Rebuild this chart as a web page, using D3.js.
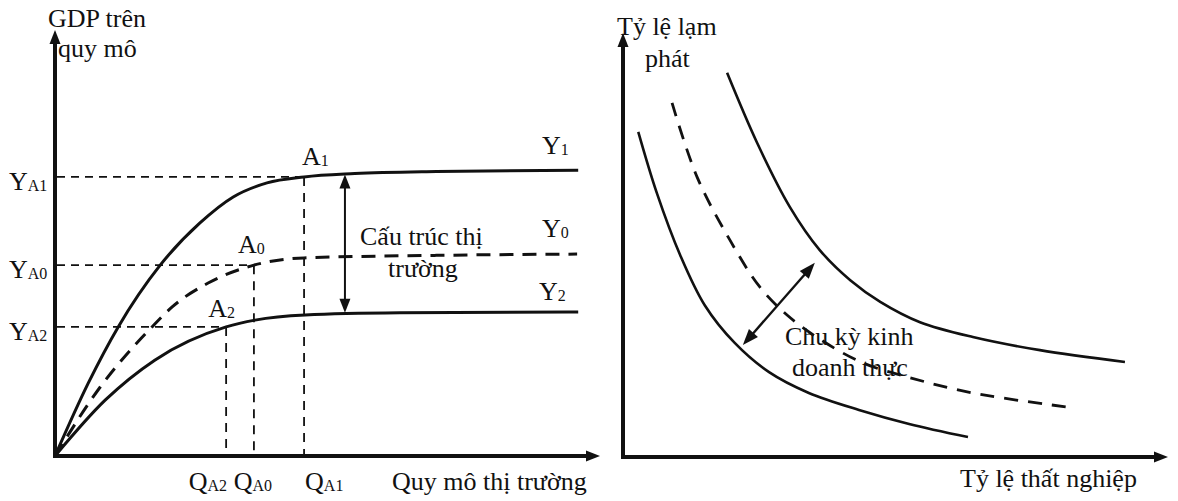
<!DOCTYPE html>
<html><head><meta charset="utf-8">
<script src="https://cdn.jsdelivr.net/npm/d3@7"></script>
<style>
body{margin:0;background:#fff}
text{font-family:"Liberation Serif","Times New Roman",serif;fill:#111;font-size:26px}
</style>
</head><body>
<svg id="c" width="1178" height="501"></svg>
<script>
// ---------- DATA (left panel: GDP vs market scale) ----------
const leftAxisTitles = ["GDP trên", "quy mô", "Quy mô thị trường"];
const pointNames = ["A2", "A0", "A1"];
const qValues = [31.4, 36.5, 45.7];          // Q_A2, Q_A0, Q_A1
const yValues = [30.3, 44.8, 65.5];          // Y_A2, Y_A0, Y_A1
const curveY1 = [[0,0],[6.1,17.1],[11.6,30.3],[19.3,44.8],[26.6,54.7],[32.7,60.8],[38.9,64.1],[45.7,65.5],[55,66.3],[70,66.8],[96,67.1]];
const curveY0 = [[0,0],[8.3,16.2],[17.8,30.3],[21.5,35.0],[28.1,40.6],[36.5,44.8],[45.7,46.5],[70,47.1],[95.8,47.4]];
const curveY2 = [[0,0],[9.2,13.1],[18.3,22.5],[31.4,30.3],[36.7,31.9],[45.9,33.1],[63.3,33.6],[96,33.8]];
const curveNames = ["Y1", "Y0", "Y2"];
const structureLabel = ["Cấu trúc thị", "trường"];
const structureArrow = {x: 53.2, y1: 66.1, y2: 33.6};

// ---------- DATA (right panel: inflation vs unemployment) ----------
const rightAxisTitles = ["Tỷ lệ lạm", "phát", "Tỷ lệ thất nghiệp"];
const phillipsOuter = [[19.1,90.6],[24.6,74.1],[30.6,59.0],[36.1,48.8],[41.7,41.7],[47.2,36.6],[54.5,31.8],[64.2,28.3],[76.5,25.2],[92.1,22.4]];
const phillipsMid   = [[9.0,83.5],[13.6,66.0],[19.6,51.2],[25.1,40.1],[30.1,33.5],[36.1,27.8],[44.0,22.2],[52.1,18.9],[64.2,15.1],[82.6,11.6]];
const phillipsInner = [[2.8,76.7],[6.2,62.3],[10.5,47.6],[15.0,35.8],[20.5,26.9],[26.8,20.0],[34.1,15.1],[43.3,11.1],[52.5,7.8],[63.3,4.7]];
const cycleLabel = ["Chu kỳ kinh", "doanh thực"];
const cycleArrow = [[35.2,45.8],[22.0,26.4]];

// ---------- SCALES ----------
const svg = d3.select("#c");
const xL = d3.scaleLinear().domain([0,100]).range([55,600]);
const yL = d3.scaleLinear().domain([0,100]).range([456,30]);
const xR = d3.scaleLinear().domain([0,100]).range([623,1168]);
const yR = d3.scaleLinear().domain([0,100]).range([457,33]);

function head(g, tip, from, len, wid){
  const dx = tip[0]-from[0], dy = tip[1]-from[1];
  const d = Math.hypot(dx,dy), ux = dx/d, uy = dy/d;
  const bx = tip[0]-ux*len, by = tip[1]-uy*len;
  const px = -uy*wid/2, py = ux*wid/2;
  g.append("path").attr("d", `M${tip[0]},${tip[1]}L${bx+px},${by+py}L${bx-px},${by-py}Z`).attr("fill","#111");
}
function arrowLine(g, a, b, w, len, wid, both){
  const dx=b[0]-a[0], dy=b[1]-a[1], d=Math.hypot(dx,dy), ux=dx/d, uy=dy/d;
  const a2 = both ? [a[0]+ux*len*0.8, a[1]+uy*len*0.8] : a;
  const b2 = [b[0]-ux*len*0.8, b[1]-uy*len*0.8];
  g.append("line").attr("x1",a2[0]).attr("y1",a2[1]).attr("x2",b2[0]).attr("y2",b2[1])
    .attr("stroke","#111").attr("stroke-width",w);
  head(g, b, a, len, wid);
  if (both) head(g, a, b, len, wid);
}
function sub(g, x, y, main, s, anchor){
  const t = g.append("text").attr("x",x).attr("y",y).attr("text-anchor",anchor||"start");
  t.append("tspan").text(main);
  t.append("tspan").attr("font-size",16).attr("dy",1).text(s);
  return t;
}

// ---------- LEFT PANEL ----------
const L = svg.append("g");
yValues.forEach((v,i)=>{
  L.append("line").attr("x1",xL(0)+2).attr("x2",xL(qValues[i])).attr("y1",yL(v)).attr("y2",yL(v))
   .attr("stroke","#111").attr("stroke-width",1.8).attr("stroke-dasharray","8,6");
  L.append("line").attr("x1",xL(qValues[i])).attr("x2",xL(qValues[i])).attr("y1",yL(v)).attr("y2",yL(0))
   .attr("stroke","#111").attr("stroke-width",1.8).attr("stroke-dasharray","9,7");
});
const lineL = d3.line().x(d=>xL(d[0])).y(d=>yL(d[1])).curve(d3.curveMonotoneX);
L.append("path").attr("d",lineL(curveY1)).attr("fill","none").attr("stroke","#111").attr("stroke-width",3);
L.append("path").attr("d",lineL(curveY2)).attr("fill","none").attr("stroke","#111").attr("stroke-width",3);
L.append("path").attr("d",lineL(curveY0)).attr("fill","none").attr("stroke","#111").attr("stroke-width",3)
  .attr("stroke-dasharray","14,9");
arrowLine(L,[xL(0),yL(0)+2],[xL(0),yL(100)],4,14,11,false);
arrowLine(L,[xL(0)-2,yL(0)],[xL(100),yL(0)],4,14,11,false);
arrowLine(L,[xL(structureArrow.x),yL(structureArrow.y2)],[xL(structureArrow.x),yL(structureArrow.y1)],2,14,11,true);
L.append("text").attr("x",48).attr("y",27).text(leftAxisTitles[0]);
L.append("text").attr("x",58).attr("y",57).text(leftAxisTitles[1]);
L.append("text").attr("x",392).attr("y",490).text(leftAxisTitles[2]);
yValues.forEach((v,i)=>{ sub(L, 9, yL(v)+13, "Y", pointNames[i]); });
sub(L, xL(qValues[0])+1, 490, "Q", pointNames[0], "end");
sub(L, xL(qValues[1])-1, 490, "Q", pointNames[1], "middle");
sub(L, xL(qValues[2])+1, 490, "Q", pointNames[2], "start");
sub(L, xL(qValues[0])-18, yL(yValues[0])-10, "A", pointNames[0].slice(1));
sub(L, xL(qValues[1])-16, yL(yValues[1])-12, "A", pointNames[1].slice(1));
sub(L, xL(qValues[2])-2, yL(yValues[2])-12, "A", pointNames[2].slice(1));
sub(L, 542, 154, "Y", curveNames[0].slice(1));
sub(L, 542, 237, "Y", curveNames[1].slice(1));
sub(L, 539, 300, "Y", curveNames[2].slice(1));
L.append("text").attr("x",360).attr("y",245).text(structureLabel[0]);
L.append("text").attr("x",388).attr("y",277).text(structureLabel[1]);

// ---------- RIGHT PANEL ----------
const R = svg.append("g");
const lineR = d3.line().x(d=>xR(d[0])).y(d=>yR(d[1])).curve(d3.curveCatmullRom.alpha(0.5));
R.append("path").attr("d",lineR(phillipsOuter)).attr("fill","none").attr("stroke","#111").attr("stroke-width",2.6);
R.append("path").attr("d",lineR(phillipsInner)).attr("fill","none").attr("stroke","#111").attr("stroke-width",2.6);
R.append("path").attr("d",lineR(phillipsMid)).attr("fill","none").attr("stroke","#111").attr("stroke-width",2.8)
  .attr("stroke-dasharray","14,10");
arrowLine(R,[xR(0),yR(0)+2],[xR(0),yR(100)],4,14,11,false);
arrowLine(R,[xR(0)-2,yR(0)],[xR(100),yR(0)],4,14,11,false);
arrowLine(R,[xR(cycleArrow[1][0]),yR(cycleArrow[1][1])],[xR(cycleArrow[0][0]),yR(cycleArrow[0][1])],2.4,16,12,true);
R.append("text").attr("x",617).attr("y",35).text(rightAxisTitles[0]);
R.append("text").attr("x",645).attr("y",67).text(rightAxisTitles[1]);
R.append("text").attr("x",960).attr("y",487).text(rightAxisTitles[2]);
R.append("text").attr("x",785).attr("y",345).text(cycleLabel[0]);
R.append("text").attr("x",792).attr("y",376).text(cycleLabel[1]);
</script>
</body></html>
